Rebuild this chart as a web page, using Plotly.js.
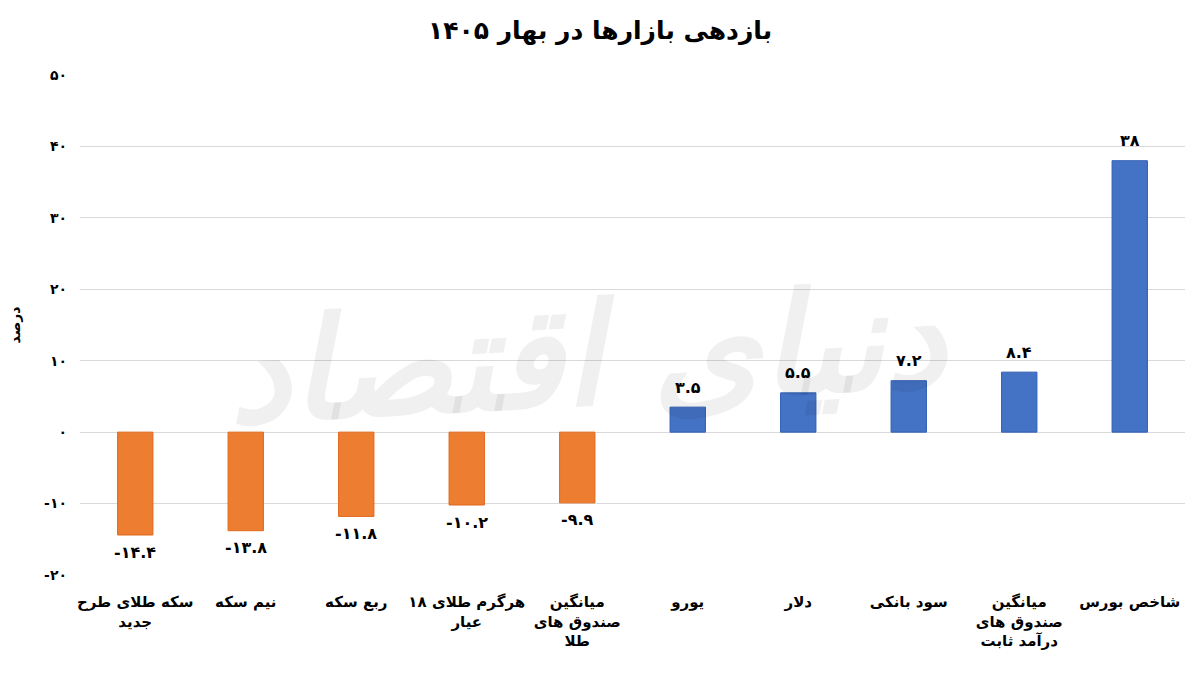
<!DOCTYPE html>
<html>
<head>
<meta charset="utf-8">
<script src="https://cdn.plot.ly/plotly-3.0.1.min.js"></script>
<style>html,body{margin:0;padding:0;background:#fff;}#chart{width:1200px;height:675px;}</style>
</head>
<body>
<div id="chart"></div>
<script>
const categories = [
  "سکه طلای طرح<br>جدید",
  "نیم سکه",
  "ربع سکه",
  "هرگرم طلای ۱۸<br>عیار",
  "میانگین<br>صندوق های<br>طلا",
  "یورو",
  "دلار",
  "سود بانکی",
  "میانگین<br>صندوق های<br>درآمد ثابت",
  "شاخص بورس"
];
const values = [-14.4, -13.8, -11.8, -10.2, -9.9, 3.5, 5.5, 7.2, 8.4, 38];
const tickValues = [-20, -10, 0, 10, 20, 30, 40, 50];
const tickLabels = ["-۲۰", "-۱۰", "۰", "۱۰", "۲۰", "۳۰", "۴۰", "۵۰"];

const faDigits = "۰۱۲۳۴۵۶۷۸۹";
function toFa(s){ return String(s).replace(/[0-9]/g, d => faDigits[+d]); }

const FONT = "DejaVu Sans, sans-serif";
const colors = values.map(v => v < 0 ? "#ED7D31" : "#4472C4");
const lineColors = values.map(v => v < 0 ? "#E0691A" : "#2F5FB3");

const trace = {
  type: "bar",
  x: categories,
  y: values,
  marker: {color: colors, line: {color: lineColors, width: 1}},
  hoverinfo: "skip"
};

const labelAnnotations = values.map((v, i) => ({
  x: categories[i], y: v, xref: "x", yref: "y",
  text: "<b>" + toFa(v) + "</b>",
  showarrow: false, yanchor: "middle",
  yshift: v < 0 ? -17 : 20,
  font: {family: FONT, size: 16, color: "#000"}
}));

const layout = {
  width: 1200, height: 675,
  margin: {l: 80, r: 15, t: 75, b: 100},
  paper_bgcolor: "#fff", plot_bgcolor: "#fff",
  title: {text: "<b>بازدهی بازارها در بهار ۱۴۰۵</b>", x: 0.5, xanchor: "center", y: 0.955, yanchor: "middle",
          font: {family: FONT, size: 25, color: "#000"}},
  showlegend: false,
  bargap: 0.68,
  xaxis: {
    type: "category",
    showgrid: false, showline: false, zeroline: false, ticks: "",
    tickfont: {family: FONT, size: 15, color: "#000", weight: "bold"},
    tickangle: 0,
    ticklabelstandoff: 16,
    automargin: false
  },
  yaxis: {
    range: [-20, 50],
    tickvals: tickValues, ticktext: tickLabels,
    showgrid: true, gridcolor: "#d9d9d9", gridwidth: 1,
    zeroline: true, zerolinecolor: "#d9d9d9", zerolinewidth: 1,
    showline: false, ticks: "",
    tickfont: {family: FONT, size: 14, color: "#000", weight: "bold"},
    ticklabelstandoff: 12,
    title: {text: "<b>درصد</b>", standoff: 20, font: {family: FONT, size: 14, color: "#000"}},
    automargin: false
  },
  annotations: [{
    text: "<i>دنیای اقتصاد</i>",
    xref: "paper", yref: "paper", x: 0.46, y: 0.44,
    showarrow: false,
    textangle: -3,
    font: {family: FONT, size: 140, color: "rgba(0,0,0,0.06)", weight: "bold"}
  }].concat(labelAnnotations)
};

Plotly.newPlot("chart", [trace], layout, {displayModeBar: false, staticPlot: true});
</script>
</body>
</html>
